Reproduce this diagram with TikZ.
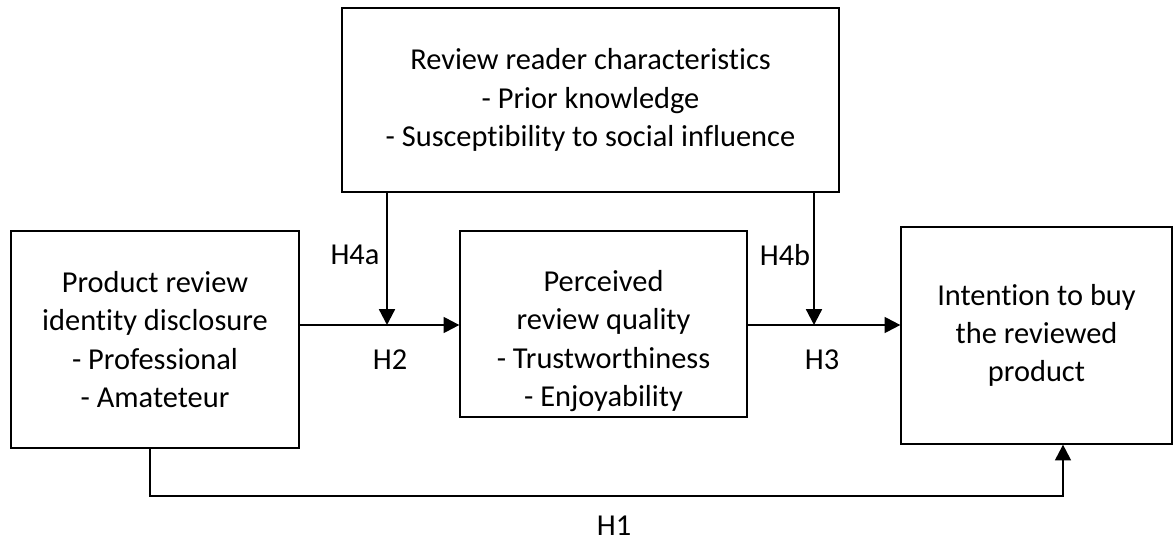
\documentclass[tikz,border=0pt]{standalone}
\usepackage{fontspec}
\setmainfont{Carlito}[Ligatures=NoCommon]
\usetikzlibrary{arrows.meta, positioning}
\tikzset{
  x=0.02cm, y=-0.02cm, % one unit is one pixel of the layout
  box/.style={draw, line width=0.75pt, inner sep=0pt, align=center,
    font=\fontsize{17.3}{21.8}\selectfont}, % the construct boxes
  link/.style={line width=1.3pt, -{Triangle[length=9pt, width=9pt]}}, % the paths
  hyp/.style={font=\fontsize{17.3}{21.8}\selectfont}, % the hypothesis labels
}
\begin{document}
\begin{tikzpicture}
    \useasboundingbox (0,0) rectangle (1175,544);

    \node[box, minimum width=9.94cm, minimum height=3.68cm] (reader) at (590.5,100)
      {Review reader characteristics\\- Prior knowledge\\- Susceptibility to social influence};
    \node[box, minimum width=5.76cm, minimum height=4.34cm] (disclosure) at (155,339.5)
      {Product review\\identity disclosure\\- Professional\\- Amateteur};
    \node[box, minimum width=5.74cm, minimum height=3.72cm] (quality) at (603.5,324) {};
    \node[hyp, align=center] (qualitytext) at (603.5,341)
      {Perceived\\review quality\\- Trustworthiness\\- Enjoyability};
    \node[box, minimum width=5.42cm, minimum height=4.34cm] (intention) at (1036.5,335.5)
      {Intention to buy\\the reviewed\\product};

    % junctions of the moderating paths
    \coordinate (joinA) at (387,325);
    \coordinate (joinB) at (814,325);
    \coordinate (turnH1) at (150,496);
    \coordinate (endH1) at (1063,496);

    \draw[link] (disclosure.east |- joinA) -- (quality.west |- joinA);
    \draw[link] (reader.south -| joinA) -- (joinA);
    \draw[link] (quality.east |- joinB) -- (intention.west |- joinB);
    \draw[link] (reader.south -| joinB) -- (joinB);
    \draw[link] (disclosure.south -| turnH1) -- (turnH1) -| (intention.south -| endH1);

    \node[hyp] (h4a) at (355,255) {H4a};
    \node[hyp] (h4b) at (785,255) {H4b};
    \node[hyp] (h2) at (390,360) {H2};
    \node[hyp] (h3) at (822,360) {H3};
    \node[hyp] (h1) at (614,526) {H1};
  \end{tikzpicture}
\end{document}
